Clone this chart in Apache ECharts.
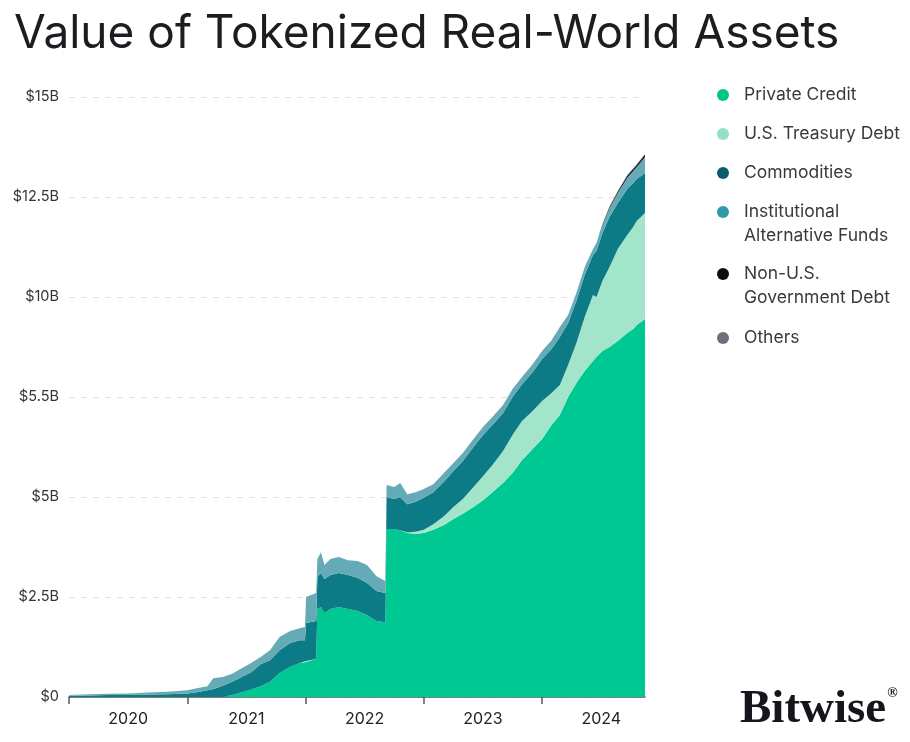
<!DOCTYPE html>
<html><head><meta charset="utf-8">
<script src="https://cdn.jsdelivr.net/npm/echarts@6/dist/echarts.min.js"></script>
<style>html,body{margin:0;padding:0;background:#fff}#c{width:910px;height:742px}</style>
</head><body><div id="c"></div>
<script>
// Decimal-year dates of each sample
const dates = [2020.00,2020.17,2020.33,2020.50,2020.67,2020.83,2021.00,2021.08,2021.17,2021.22,
  2021.30,2021.38,2021.46,2021.54,2021.62,2021.70,2021.78,2021.87,2021.95,2021.995,
  2022.005,2022.09,2022.10,2022.13,2022.16,2022.21,2022.28,2022.36,2022.44,2022.52,
  2022.60,2022.675,2022.685,2022.75,2022.80,2022.86,2022.93,2023.00,2023.08,2023.17,
  2023.25,2023.33,2023.42,2023.50,2023.58,2023.67,2023.75,2023.83,2023.92,2024.00,
  2024.08,2024.15,2024.22,2024.29,2024.36,2024.43,2024.46,2024.51,2024.57,2024.64,
  2024.72,2024.77,2024.80,2024.87];
// Values in $B
const privateCredit = [0,0,0,0,0,0,0,0,0,0,
  0,0.05,0.12,0.19,0.27,0.38,0.60,0.75,0.85,0.87,
  0.90,0.95,2.20,2.25,2.10,2.20,2.25,2.20,2.15,2.05,
  1.90,1.87,4.20,4.20,4.17,4.10,4.08,4.10,4.18,4.30,
  4.45,4.58,4.75,4.92,5.12,5.35,5.60,5.92,6.20,6.45,
  6.80,7.05,7.50,7.85,8.15,8.40,8.50,8.65,8.75,8.90,
  9.10,9.20,9.30,9.45];
const usTreasury = [0,0,0,0,0,0,0,0,0,0,
  0,0,0,0,0,0,0,0,0,0,
  0,0,0,0,0,0,0,0,0,0,
  0,0,0,0,0,0.02,0.05,0.08,0.14,0.22,
  0.30,0.37,0.50,0.60,0.68,0.80,0.95,0.98,0.95,0.95,
  0.80,0.75,0.80,1.00,1.35,1.65,1.50,1.75,2.00,2.30,
  2.45,2.55,2.60,2.65];
const commodities = [0.03,0.04,0.05,0.05,0.06,0.07,0.09,0.12,0.17,0.20,
  0.28,0.33,0.38,0.43,0.55,0.54,0.57,0.60,0.57,0.55,
  0.95,0.95,0.80,0.85,0.85,0.85,0.85,0.85,0.83,0.80,
  0.75,0.73,0.80,0.75,0.83,0.70,0.75,0.80,0.80,0.86,
  0.90,0.95,1.00,1.03,1.00,0.95,0.95,0.92,0.97,1.05,
  1.10,1.20,1.05,1.05,1.05,1.00,1.15,1.20,1.25,1.15,
  1.15,1.10,1.05,1.00];
const institutional = [0.02,0.03,0.03,0.04,0.05,0.06,0.08,0.10,0.10,0.27,
  0.22,0.20,0.22,0.23,0.18,0.25,0.33,0.30,0.30,0.33,
  0.65,0.70,0.45,0.52,0.35,0.40,0.40,0.37,0.42,0.45,
  0.37,0.30,0.30,0.30,0.35,0.25,0.24,0.22,0.20,0.22,
  0.20,0.20,0.20,0.20,0.20,0.20,0.20,0.18,0.20,0.20,
  0.22,0.25,0.20,0.20,0.20,0.15,0.20,0.20,0.22,0.25,
  0.28,0.30,0.30,0.40];
const nonUSGov = [0,0,0,0,0,0,0,0,0,0,
  0,0,0,0,0,0,0,0,0,0,
  0,0,0,0,0,0,0,0,0,0,
  0,0,0,0,0,0,0,0,0,0,
  0,0,0,0,0,0,0,0,0,0,
  0,0,0,0,0,0,0,0.02,0.03,0.04,
  0.05,0.05,0.05,0.06];
const others = [0,0,0,0,0,0,0,0,0,0,
  0,0,0,0,0,0,0,0,0,0,
  0,0,0,0,0,0,0,0,0,0,
  0,0,0,0,0,0,0,0,0,0,
  0,0,0,0,0,0,0,0,0,0,
  0,0,0,0,0,0,0,0,0.01,0.01,
  0.02,0.02,0.02,0.04];

const seriesNames = ['Private Credit','U.S. Treasury Debt','Commodities','Institutional Alternative Funds','Non-U.S. Government Debt','Others'];
const legendLabels = ['Private Credit','U.S. Treasury Debt','Commodities','Institutional\nAlternative Funds','Non-U.S.\nGovernment Debt','Others'];
const yTickLabels = ['$0','$2.5B','$5B','$5.5B','$10B','$12.5B','$15B'];
const yearLabels = ['2020','2021','2022','2023','2024'];
const yearStarts = [2020,2021,2022,2023,2024];
const yearMids = [2020.5,2021.5,2022.5,2023.5,2024.5];

const allValues = [privateCredit, usTreasury, commodities, institutional, nonUSGov, others];
const areaColors = ['#00c892','#a3e5cb','#0d7b86','#65abb7','#111418','#6c7078'];
const dotColors = ['#00c67f','#93e1c2','#0b5d68','#2f9ba7','#0b1014','#6c7078'];

const chart = echarts.init(document.getElementById('c'), null, {renderer:'canvas'});

// value first, date second, so that the stack is applied to the value (y) dimension
const series = seriesNames.map((name, i) => ({
  name: name,
  type: 'line',
  stack: 'total',
  data: dates.map((d, k) => [allValues[i][k], d]),
  encode: {x: 1, y: 0},
  showSymbol: false,
  symbol: 'none',
  lineStyle: {width: 0},
  itemStyle: {color: areaColors[i]},
  areaStyle: {color: areaColors[i], opacity: 1},
  emphasis: {disabled: true}
}));

const legendCenters = [95,134,173,212,274,338];
const graphics = [];
legendLabels.forEach((lab, i) => {
  graphics.push({type:'circle', shape:{cx:723, cy:legendCenters[i], r:6}, style:{fill:dotColors[i]}});
  graphics.push({type:'text', x:744, y:legendCenters[i]-12,
    style:{text:lab, font:'17.5px Inter', fill:'#3a3a3a', lineHeight:24, verticalAlign:'top', align:'left'}});
});
graphics.push({type:'text', x:740, y:686, style:{
  text:'{a|Bitwise}{b|®}',
  rich:{
    a:{font:'bold 47px "Liberation Serif"', fill:'#14161c', verticalAlign:'bottom'},
    b:{font:'bold 14px "Liberation Serif"', fill:'#14161c', verticalAlign:'top', padding:[0,0,20,1]}
  }
}});

chart.setOption({
  animation: false,
  backgroundColor: '#ffffff',
  title: {
    text: 'Value of Tokenized Real-World Assets',
    left: 9, top: 6,
    textStyle: {fontSize: 46, fontWeight: 400, color: '#1c1d21', fontFamily: 'Inter'}
  },
  grid: {left: 69, right: 265, top: 97, bottom: 45, containLabel: false},
  xAxis: {
    type: 'value', min: 2020, max: 2024.87,
    axisLine: {show: true, lineStyle: {color: '#5a5a5a', width: 1.5}},
    axisTick: {show: true, customValues: yearStarts, length: 7, lineStyle: {color: '#5a5a5a', width: 1.5}},
    axisLabel: {customValues: yearMids, formatter: v => yearLabels[Math.floor(v) - 2020],
      color: '#222', fontSize: 16, fontFamily: 'Inter', margin: 14},
    splitLine: {show: false}
  },
  yAxis: {
    type: 'value', min: 0, max: 15, interval: 2.5,
    axisLine: {show: false}, axisTick: {show: false},
    axisLabel: {formatter: v => yTickLabels[Math.round(v / 2.5)], color: '#333', fontSize: 14.5, fontFamily: 'Inter', margin: 10},
    splitLine: {show: true, lineStyle: {color: '#e3e3e3', type: [6, 6], width: 1}}
  },
  series: series,
  graphic: graphics
});
</script></body></html>
